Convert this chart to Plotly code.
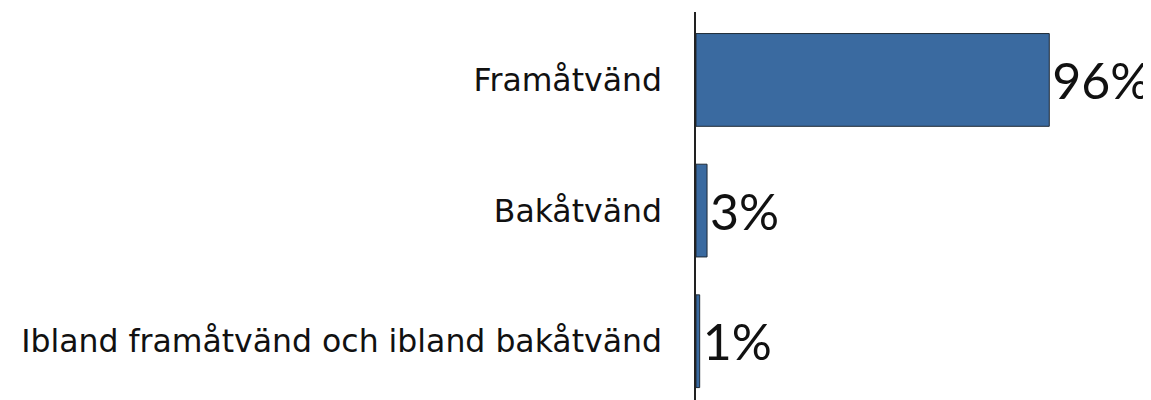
import plotly.graph_objects as go

categories = ["Framåtvänd", "Bakåtvänd", "Ibland framåtvänd och ibland bakåtvänd"]
values = [96, 3, 1]
value_labels = ["96%", "3%", "1%"]

fig = go.Figure(go.Bar(
    x=values,
    y=categories,
    orientation="h",
    marker=dict(color="#3a6aa0", line=dict(color="#1f2a36", width=1)),
    width=0.71,
    text=value_labels,
    textposition="outside",
    textfont=dict(size=50, color="#111111", family="Lato"),
    cliponaxis=False,
))

fig.update_layout(
    width=1143,
    height=392,
    margin=dict(l=688, r=87, t=4, b=0),
    paper_bgcolor="white",
    plot_bgcolor="white",
    showlegend=False,
    font=dict(family="DejaVu Sans", color="#111111"),
    xaxis=dict(range=[0, 100], showgrid=False, zeroline=False, showticklabels=False,
               showline=False, ticks="", automargin=False),
    yaxis=dict(type="category", range=[2.45, -0.52], showgrid=False, zeroline=False,
               showline=True, linecolor="#222222", linewidth=1.5, ticks="",
               automargin=False,
               ticklabelstandoff=26, tickfont=dict(size=31.5, color="#111111", family="DejaVu Sans")),
)

fig.write_html("out.html")
